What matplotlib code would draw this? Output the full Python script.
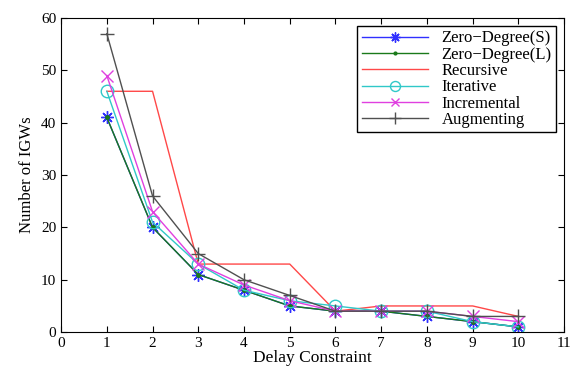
import matplotlib
matplotlib.use('Agg')
import matplotlib.pyplot as plt

delay = [1, 2, 3, 4, 5, 6, 7, 8, 9, 10]
zero_s = [41, 20, 11, 8, 5, 4, 4, 3, 2, 1]
zero_l = [41, 20, 11, 8, 5, 4, 4, 3, 2, 1]
recursive = [46, 46, 13, 13, 13, 4, 5, 5, 5, 3]
iterative = [46, 21, 13, 8, 6, 5, 4, 4, 2, 1]
incremental = [49, 23, 13, 9, 6, 4, 4, 4, 3, 2]
augmenting = [57, 26, 15, 10, 7, 4, 4, 4, 3, 3]

plt.rcParams['font.family'] = ['Liberation Serif', 'DejaVu Serif']

fig = plt.figure(figsize=(5.71, 3.67), dpi=100)
ax = fig.add_axes([0.107, 0.095, 0.881, 0.856])

ax.plot(delay, zero_s, color='#3030ff', marker=(8, 2, 0), markersize=9, lw=1, label='Zero\u2212Degree(S)')
ax.plot(delay, zero_l, color='#1a7a1a', marker='.', markersize=5, lw=1, label='Zero\u2212Degree(L)')
ax.plot(delay, recursive, color='#ff4848', lw=1, label='Recursive')
ax.plot(delay, iterative, color='#30c8c8', marker='o', markersize=9, mfc='none', lw=1, label='Iterative')
ax.plot(delay, incremental, color='#e040e0', marker='x', markersize=8, lw=1, label='Incremental')
ax.plot(delay, augmenting, color='#505050', marker='+', markersize=10, lw=1, label='Augmenting')

ax.set_xlim(0, 11)
ax.set_ylim(0, 60)
ax.set_xticks(range(0, 12))
ax.set_yticks(range(0, 61, 10))
ax.tick_params(direction='in', top=True, right=True, labelsize=11, length=4)
ax.set_xlabel('Delay Constraint', fontsize=12.5, labelpad=0)
ax.set_ylabel('Number of IGWs', fontsize=12)

leg = ax.legend(loc='upper right', fontsize=12, handlelength=4.0, fancybox=False,
                framealpha=1, edgecolor='black', borderaxespad=0.5,
                labelspacing=0.02, borderpad=0.25, markerscale=0.8)
leg.get_frame().set_linewidth(1)

fig.savefig('out.png', dpi=100)
